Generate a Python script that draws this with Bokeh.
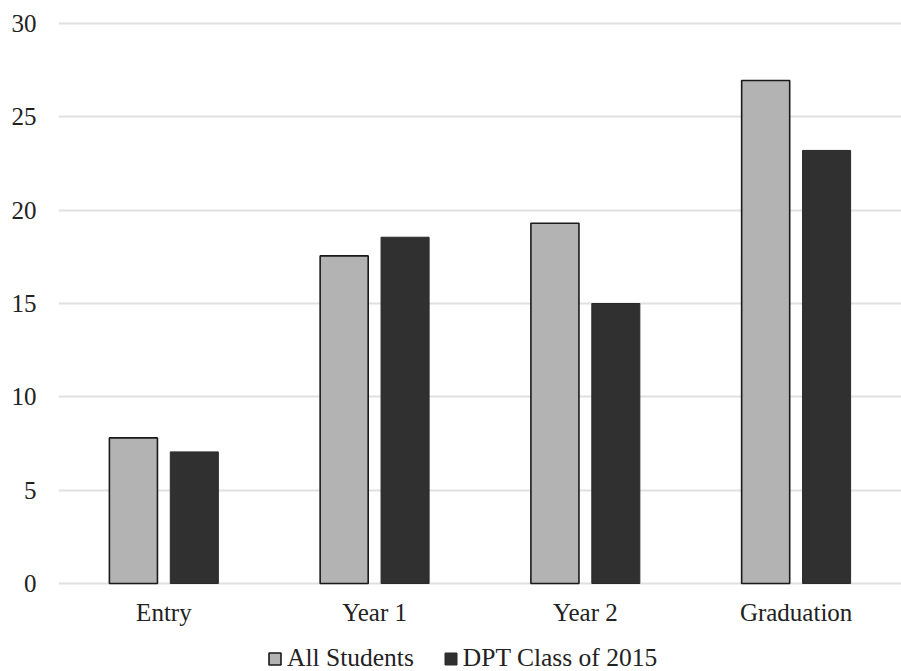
from bokeh.plotting import figure
from bokeh.models import ColumnDataSource, FactorRange, FixedTicker, Legend, LegendItem
from bokeh.transform import dodge
from bokeh.embed import file_html
from bokeh.resources import INLINE

# Survey stages and mean scores for each group
stages = ["Entry", "Year 1", "Year 2", "Graduation"]
all_students = [7.8, 17.55, 19.3, 26.95]
dpt_2015 = [7.05, 18.55, 15.0, 23.2]
y_ticks = [0, 5, 10, 15, 20, 25, 30]

FONT = "Liberation Serif"
TEXT_COLOR = "#222222"
FONT_SIZE = "25px"

source = ColumnDataSource(data=dict(stage=stages, all=all_students, dpt=dpt_2015))

# The frame runs to the bottom of the canvas so the category labels and the
# legend can sit inside it, below the zero line.
p = figure(
    width=901, height=671,
    x_range=FactorRange(factors=stages, range_padding=0),
    y_range=(-4.714, 30.107),
    x_axis_location=None,
    output_backend="svg", toolbar_location=None,
    min_border_left=58, min_border_right=0, min_border_top=21, min_border_bottom=0,
)
p.outline_line_color = None
p.background_fill_color = "white"
p.border_fill_color = "white"

r_all = p.vbar(x=dodge("stage", -0.1445, range=p.x_range), top="all", bottom=0, width=0.228,
               source=source, fill_color="#b3b3b3", line_color="#1a1a1a", line_width=1.6)
r_dpt = p.vbar(x=dodge("stage", 0.1445, range=p.x_range), top="dpt", bottom=0, width=0.228,
               source=source, fill_color="#303030", line_color="#2a2a2a", line_width=1)

# category labels under the zero line
p.text(x="stage", y=0, text="stage", source=source, y_offset=15,
       text_align="center", text_baseline="top",
       text_font={"value": FONT}, text_font_size=FONT_SIZE, text_color=TEXT_COLOR)

# grid
p.xgrid.grid_line_color = None
p.ygrid.grid_line_color = "#e0e0e0"
p.ygrid.grid_line_width = 2
p.yaxis.ticker = FixedTicker(ticks=y_ticks)

ax = p.yaxis
ax.axis_line_color = None
ax.major_tick_line_color = None
ax.minor_tick_line_color = None
ax.major_tick_out = 0
ax.major_tick_in = 0
ax.major_label_text_font = FONT
ax.major_label_text_font_size = FONT_SIZE
ax.major_label_text_color = TEXT_COLOR
ax.major_label_standoff = 22

legend = Legend(
    items=[LegendItem(label="All Students", renderers=[r_all]),
           LegendItem(label="DPT Class of 2015", renderers=[r_dpt])],
    orientation="horizontal", location=(209, -2),
    label_text_font=FONT, label_text_font_size="25.5px", label_text_color=TEXT_COLOR,
    glyph_width=15, glyph_height=15, label_standoff=5, spacing=29,
    padding=0, margin=0, border_line_color=None, background_fill_alpha=0,
)
p.add_layout(legend, "center")

open("out.html", "w").write(file_html(p, INLINE))
